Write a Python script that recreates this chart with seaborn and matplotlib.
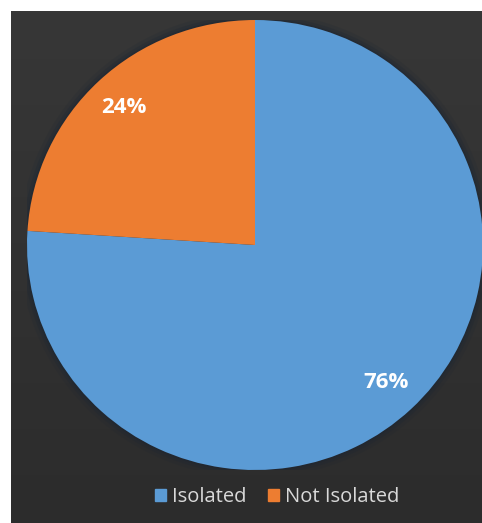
import numpy as np
import matplotlib
matplotlib.use("Agg")
import matplotlib.pyplot as plt
from matplotlib.patches import Rectangle, Ellipse
from matplotlib.colors import LinearSegmentedColormap
import seaborn as sns

categories = ["Isolated", "Not Isolated"]
values = [76, 24]
colors = ["#5B9BD5", "#ED7D31"]

sns.set_theme(style="dark")
plt.rcParams['font.family'] = ['Open Sans', 'DejaVu Sans']

W, H = 482, 523
fig = plt.figure(figsize=(W / 100, H / 100), dpi=100, facecolor="white")

# dark background panel with subtle gradient
bg = fig.add_axes([11 / W, 0, (W - 11) / W, (H - 11) / H])
grad = np.linspace(0, 1, 256).reshape(-1, 1)
cm = LinearSegmentedColormap.from_list("bg", ["#373737", "#2c2c2c"])
bg.imshow(grad, aspect="auto", cmap=cm, extent=[0, 1, 0, 1], origin="upper")
bg.set_axis_off()

cx, cy, rx, ry = 255, 245, 228, 225
ax = fig.add_axes([(cx - rx) / W, (H - cy - ry) / H, 2 * rx / W, 2 * ry / H])
ax.patch.set_alpha(0)
# soft shadow
for k, a in [(1.035, 0.15), (1.02, 0.25), (1.008, 0.35)]:
    ax.add_patch(Ellipse((0, 0.0), 2 * k, 2 * k, color="#1b2633", alpha=a, lw=0, zorder=0))
wedges, texts, autotexts = ax.pie(
    values, colors=colors, startangle=90, counterclock=False,
    autopct="%1.0f%%", pctdistance=0.84,
    textprops=dict(color="white", fontsize=16, fontweight="bold"),
    wedgeprops=dict(linewidth=0),
)
for w in wedges:
    w.set_zorder(2)
ax.set_aspect("auto")
ax.set_xlim(-1, 1)
ax.set_ylim(-1, 1)
ax.set_axis_off()

handles = [Rectangle((0, 0), 1, 1, color=c) for c in colors]
leg = fig.legend(handles, categories, loc="center", bbox_to_anchor=(0.575, 1 - 497 / H),
                 ncol=2, frameon=False, fontsize=14.5, handlelength=0.55, handleheight=0.55,
                 handletextpad=0.3, columnspacing=1.1)
for t in leg.get_texts():
    t.set_color("#d9d9d9")

fig.savefig("out.png", dpi=100, facecolor="white")
